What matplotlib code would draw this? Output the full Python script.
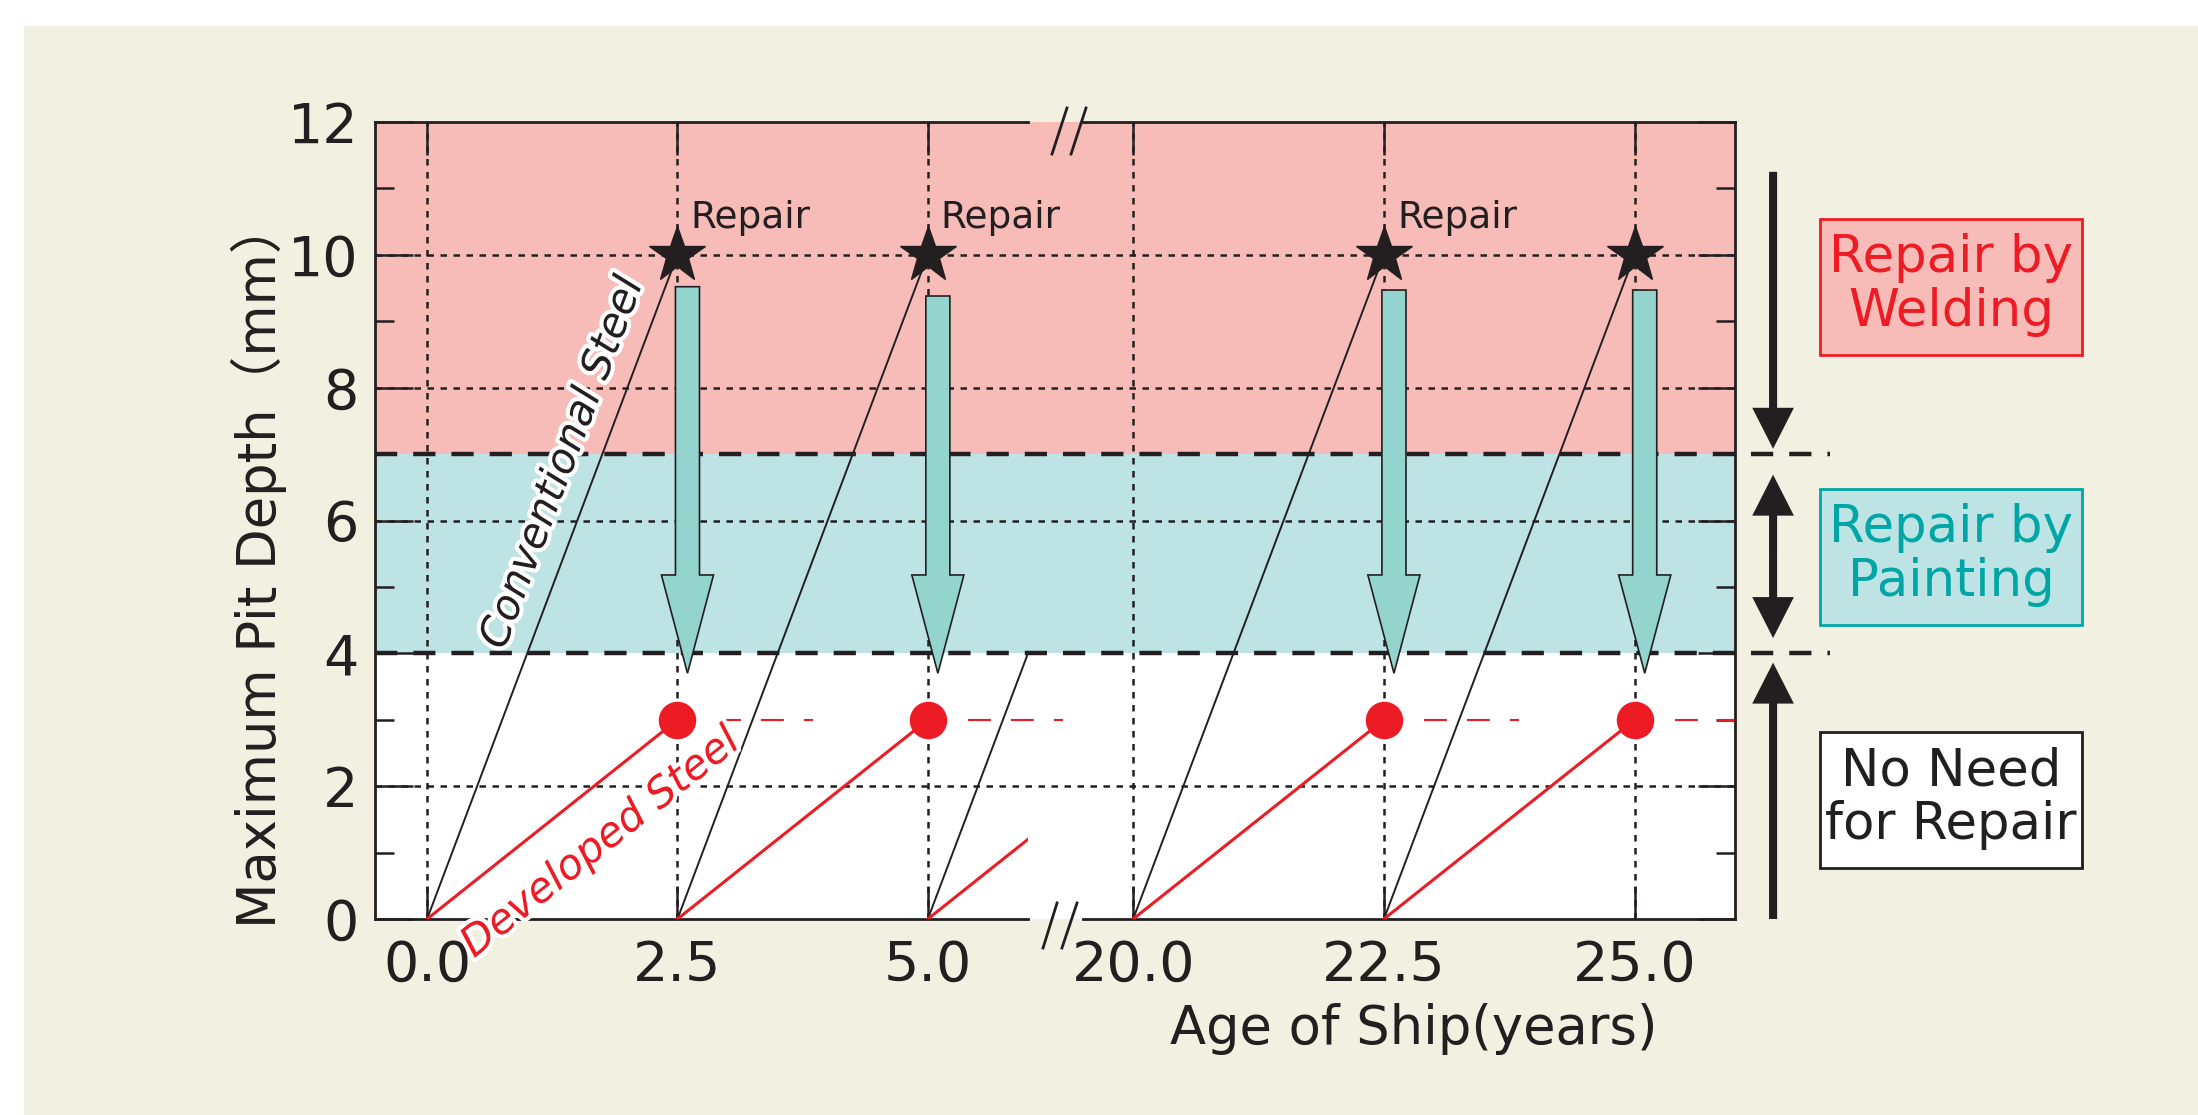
import matplotlib.pyplot as plt
import matplotlib.patheffects as pe
from matplotlib.patches import Rectangle, FancyArrow, FancyArrowPatch
import numpy as np

# pit depth growth: one segment per paint cycle (age start -> age end, depth)
cycle_start = [0.0, 2.5, 5.0, 20.0, 22.5]
cycle_end = [2.5, 5.0, 7.5, 22.5, 25.0]
conv_depth = [10, 10, 10, 10, 10]
dev_depth = [3, 3, 3, 3, 3]

# repairs
repair_age = [2.5, 5.0, 22.5, 25.0]
repair_conv = [10, 10, 10, 10]
repair_dev = [3, 3, 3, 3]
repair_label = ["Repair", "Repair", "Repair", ""]
arrow_top = [9.52, 9.38, 9.47, 9.47]
arrow_tip = [3.7, 3.7, 3.7, 3.7]

weld_limit = 7
paint_limit = 4
depth_max = 12

xticks_left = [0.0, 2.5, 5.0]
xticks_right = [20.0, 22.5, 25.0]

cream = '#F2F0E0'
pink = '#F8BCB8'
teal_bg = '#BDE3E4'
arrow_fc = '#93D4CF'
red = '#ED1C24'
teal_txt = '#00A6A6'
ink = '#231F20'

W, H = 2198, 1115
fig = plt.figure(figsize=(W / 100, H / 100), dpi=100, facecolor='white')
fig.patches.append(Rectangle((24 / W, 0), 1, 1 - 26 / H, transform=fig.transFigure,
                             color=cream, zorder=-10))


def box(x0, y0, x1, y1):
    return [x0 / W, 1 - y1 / H, (x1 - x0) / W, (y1 - y0) / H]


bg = fig.add_axes(box(375, 122, 1735, 919), facecolor='white')
axL = fig.add_axes(box(375, 122, 1028, 919), facecolor='none')
axR = fig.add_axes(box(1083, 122, 1735, 919), facecolor='none')

# background: bands, y axis, horizontal grid
bg.set_xlim(0, 1)
bg.set_ylim(0, depth_max)
bg.axhspan(weld_limit, depth_max, color=pink, lw=0)
bg.axhspan(paint_limit, weld_limit, color=teal_bg, lw=0)
for y in [2, 6, 8, 10]:
    bg.axhline(y, color=ink, lw=1.8, dashes=(2.6, 2.6), zorder=1)
ytr = bg.get_yaxis_transform()
for y in [weld_limit, paint_limit]:
    bg.plot([0, 1.07], [y, y], transform=ytr, color=ink, lw=3.2, dashes=(5, 3.6),
            clip_on=False, zorder=2)
bg.spines['top'].set_visible(False)
bg.spines['bottom'].set_visible(False)
for s in ['left', 'right']:
    bg.spines[s].set_linewidth(2)
    bg.spines[s].set_color(ink)
bg.set_xticks([])
bg.set_yticks(np.arange(0, 13, 2))
bg.set_yticks(np.arange(0, 13, 1), minor=True)
bg.tick_params(axis='y', which='major', direction='in', left=True, right=True,
               length=27, width=1.8, color=ink, labelsize=40, labelcolor=ink, pad=12)
bg.tick_params(axis='y', which='minor', direction='in', left=True, right=True,
               length=14, width=1.8, color=ink)

# break marks
for xs, ys in [([0.4978, 0.5088], [0.9598, 1.0176]), ([0.5118, 0.5228], [0.9598, 1.0176]),
               ([0.4912, 0.5015], [-0.0364, 0.0201]), ([0.5051, 0.5162], [-0.0364, 0.0201])]:
    bg.plot(xs, ys, transform=bg.transAxes, color=ink, lw=2, clip_on=False)

# data panels
for ax, xlim, ticks in [(axL, (-0.52, 6.0), xticks_left), (axR, (19.5, 26.0), xticks_right)]:
    ax.set_xlim(*xlim)
    ax.set_ylim(0, depth_max)
    ax.spines['left'].set_visible(False)
    ax.spines['right'].set_visible(False)
    for s in ['top', 'bottom']:
        ax.spines[s].set_linewidth(2)
        ax.spines[s].set_color(ink)
    ax.set_yticks([])
    ax.set_xticks(ticks)
    ax.set_xticklabels([f'{t:.1f}' for t in ticks])
    ax.tick_params(axis='x', direction='in', top=True, bottom=True, length=24, width=1.8,
                   color=ink, labelsize=40, labelcolor=ink, pad=14)
    ax.grid(axis='x', color=ink, lw=1.8, dashes=(2.6, 2.6))


def panel(x):
    return axL if x < 10 else axR


for x0, x1, yc, yd in zip(cycle_start, cycle_end, conv_depth, dev_depth):
    ax = panel(x0)
    ax.plot([x0, x1], [0, yc], color=ink, lw=1.4, zorder=4)
    ax.plot([x0, x1], [0, yd], color=red, lw=2.2, zorder=4)

for x, yc, yd, lab, top, tip in zip(repair_age, repair_conv, repair_dev, repair_label,
                                    arrow_top, arrow_tip):
    ax = panel(x)
    ax.add_patch(FancyArrow(x + 0.1, top, 0, tip - top, width=0.24, head_width=0.52,
                            head_length=1.48, length_includes_head=True,
                            fc=arrow_fc, ec=ink, lw=1.2, zorder=5))
    ax.plot([x + 0.4, x + 1.35], [yd, yd], color=red, lw=1.5, dashes=(11, 9.6),
            clip_on=(ax is axR), zorder=4)
    ax.plot([x], [yc], marker='*', ms=42, color=ink, zorder=6, clip_on=False)
    ax.plot([x], [yd], marker='o', ms=27, color=red, mec='none', zorder=6)
    if lab:
        ax.text(x + 0.13, 10.41, lab, fontsize=27, color=ink, ha='left', va='baseline')

# rotated line labels
p = axL.transData.transform([(0, 0), (2.5, 10), (2.5, 3)])
ang_c = np.degrees(np.arctan2(p[1, 1] - p[0, 1], p[1, 0] - p[0, 0]))
ang_d = np.degrees(np.arctan2(p[2, 1] - p[0, 1], p[2, 0] - p[0, 0]))
halo = [pe.withStroke(linewidth=6, foreground='white')]
axL.text(1.35, 6.87, 'Conventional Steel', rotation=ang_c, rotation_mode='anchor',
         ha='center', va='center', fontsize=30, style='italic', color=ink,
         path_effects=halo, zorder=7)
axL.text(1.73, 1.15, 'Developed Steel', rotation=ang_d, rotation_mode='anchor',
         ha='center', va='center', fontsize=30, style='italic', color=red,
         path_effects=halo, zorder=7)

# axis titles
fig.text(259 / W, 0.494, 'Maximum Pit Depth（mm）', rotation=90, ha='center', va='center',
         fontsize=38, color=ink, family=['DejaVu Sans', 'Noto Sans CJK JP'])
fig.text(1414 / W, 71 / H, 'Age of Ship(years)', ha='center', va='baseline',
         fontsize=38, color=ink)

# region arrows on the right
simple = 'simple,head_length=2.95,head_width=3.0,tail_width=0.58'
ax_x = 1.028
for a, b in [(11.25, 7.08), (5.45, 6.69), (5.45, 4.23), (0.0, 3.86)]:
    bg.add_patch(FancyArrowPatch((ax_x, a), (ax_x, b), transform=ytr, arrowstyle=simple,
                                 mutation_scale=10, fc=ink, ec='none', clip_on=False,
                                 shrinkA=0, shrinkB=0))

# region boxes
boxes = [(219, 'Repair by\nWelding', red, pink),
         (489, 'Repair by\nPainting', teal_txt, teal_bg),
         (732, 'No Need\nfor Repair', ink, 'white')]
for top, txt, fg, fill in boxes:
    fig.patches.append(Rectangle((1820 / W, 1 - (top + 136) / H), 262 / W, 136 / H,
                                 transform=fig.transFigure, fc=fill, ec=fg, lw=2))
    fig.text(1951 / W, 1 - (top + 66) / H, txt, ha='center', va='center', fontsize=37,
             color=fg, linespacing=1.08)

fig.savefig('out.png', dpi=100, facecolor=fig.get_facecolor())
